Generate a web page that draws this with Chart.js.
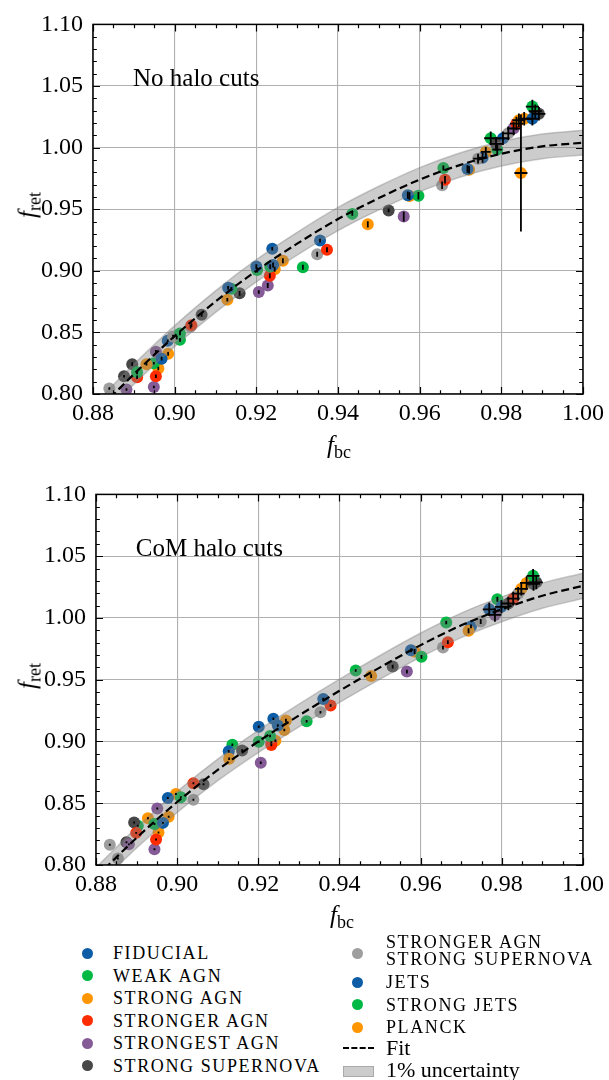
<!DOCTYPE html>
<html>
<head>
<meta charset="utf-8">
<script src="https://cdn.jsdelivr.net/npm/chart.js@4.4.1/dist/chart.umd.min.js"></script>
<style>
  html, body { margin: 0; padding: 0; background: #fff; }
  body { width: 609px; height: 1080px; position: relative; overflow: hidden; font-family: 'Liberation Serif', serif; color: #000; }
  .panel { position: absolute; left: 0; width: 609px; height: 470px; }
  .ax-title { position: absolute; font-size: 25px; white-space: nowrap; line-height: 1; transform: translate(-50%, -50%); }
  .ax-title.rot { transform: translate(-50%, -50%) rotate(-90deg); }
  .ax-title sub { font-size: 18px; font-style: normal; vertical-align: baseline; position: relative; top: 5px; }
  .lg-dot { position: absolute; width: 11px; height: 11px; border-radius: 50%; }
  .lg-text { position: absolute; font-size: 18px; letter-spacing: 1.6px; line-height: 16.6px; white-space: pre; transform: translateY(-50%); }
  .lg-text.plain { font-size: 22px; letter-spacing: 0; line-height: 22px; }
</style>
</head>
<body>
<canvas id="top" class="panel" style="top:0" width="609" height="470"></canvas>
<canvas id="bottom" class="panel" style="top:470px" width="609" height="470"></canvas>
<div class="ax-title" style="left:339px; top:444px"><i>f</i><sub>bc</sub></div>
<div class="ax-title rot" style="left:27px; top:205px"><i>f</i><sub>ret</sub></div>
<div class="ax-title" style="left:342px; top:914px"><i>f</i><sub>bc</sub></div>
<div class="ax-title rot" style="left:27px; top:676px"><i>f</i><sub>ret</sub></div>
<div id="legend"></div>
<script>
// simulation models, in legend order
const MODELS = ['FIDUCIAL', 'WEAK AGN', 'STRONG AGN', 'STRONGER AGN', 'STRONGEST AGN',
  'STRONG SUPERNOVA', 'STRONGER AGN\nSTRONG SUPERNOVA', 'JETS', 'STRONG JETS', 'PLANCK'];
const MODEL_COLORS = ['#0C5DA5', '#00B945', '#FF9500', '#FF2C00', '#845B97',
  '#474747', '#9e9e9e', '#0C5DA5', '#00B945', '#FF9500'];

// no halo cuts
const noCutFbc = [0.8840, 0.8882, 0.8876, 0.8896, 0.8908, 0.8908, 0.8931, 0.8949, 0.8960, 0.8954,
  0.8949, 0.8954, 0.8968, 0.8984, 0.8983, 0.8996, 0.9005, 0.9013, 0.9013, 0.9041,
  0.9039, 0.9066, 0.9131, 0.9139, 0.9129, 0.9159, 0.9200, 0.9202, 0.9206, 0.9228,
  0.9233, 0.9234, 0.9241, 0.9239, 0.9245, 0.9265, 0.9314, 0.9349, 0.9356, 0.9373,
  0.9435, 0.9473, 0.9524, 0.9561, 0.9571, 0.9575, 0.9597, 0.9658, 0.9662, 0.9655,
  0.9717, 0.9721, 0.9743, 0.9754, 0.9762, 0.9790, 0.9774, 0.9787, 0.9804, 0.9817,
  0.9830, 0.9837, 0.9843, 0.9856, 0.9876, 0.9883, 0.9876, 0.9892, 0.9848];
const noCutFret = [0.8044, 0.8036, 0.8144, 0.8242, 0.8176, 0.8136, 0.8242, 0.8250, 0.8207, 0.8144,
  0.8057, 0.8342, 0.8287, 0.8326, 0.8432, 0.8466, 0.8458, 0.8492, 0.8440, 0.8559,
  0.8546, 0.8643, 0.8862, 0.8854, 0.8765, 0.8817, 0.9034, 0.9007, 0.8828, 0.8880,
  0.8960, 0.9034, 0.9047, 0.9179, 0.9013, 0.9082, 0.9029, 0.9134, 0.9245, 0.9171,
  0.9462, 0.9377, 0.9490, 0.9440, 0.9614, 0.9607, 0.9609, 0.9834, 0.9739, 0.9694,
  0.9826, 0.9820, 0.9910, 0.9918, 0.9965, 0.9984, 1.0076, 1.0030, 1.0076, 1.0116,
  1.0155, 1.0195, 1.0222, 1.0234, 1.0333, 1.0295, 1.0234, 1.0274, 0.9794];
const noCutModel = [6, 4, 5, 5, 1, 3, 2, 8, 9, 3,
  4, 4, 0, 2, 7, 6, 9, 1, 8, 3,
  6, 5, 0, 1, 2, 5, 7, 8, 4, 4,
  3, 1, 0, 7, 9, 2, 8, 6, 0, 3,
  1, 2, 5, 4, 0, 2, 1, 1, 3, 6,
  0, 9, 6, 7, 9, 8, 8, 5, 7, 6,
  4, 3, 2, 9, 1, 5, 0, 5, 2];
const noCutXerr = [0, 0, 0, 0, 0, 0, 0, 0, 0, 0,
  0, 0, 0, 0, 0, 0, 0, 0, 0, 0,
  0, 0, 0, 0, 0, 0, 0, 0, 0, 0,
  0, 0, 0, 0, 0, 0, 0, 0, 0, 0,
  0, 0, 0, 0, 0, 0, 0, 0, 0, 0,
  0, 0, 0.0012, 0.0012, 0.0012, 0.0012, 0.0016, 0.0016, 0.0016, 0.0016,
  0.0016, 0.0016, 0.0016, 0.0016, 0.0016, 0.0016, 0.0016, 0.0016, 0.0016];
const noCutYerr = [0.001, 0.001, 0.001, 0.0015, 0.0015, 0.0015, 0.001, 0.001, 0.0015, 0.0015,
  0.001, 0.0015, 0.0015, 0.0015, 0.001, 0.0015, 0.0015, 0.0015, 0.0015, 0.0015,
  0.0015, 0.0015, 0.0015, 0.0015, 0.0015, 0.002, 0.002, 0.002, 0.0015, 0.002,
  0.002, 0.002, 0.002, 0.0015, 0.002, 0.002, 0.002, 0.002, 0.0015, 0.002,
  0.0015, 0.0025, 0.0015, 0.004, 0.003, 0.003, 0.003, 0.002, 0.003, 0.003,
  0.003, 0.003, 0.004, 0.004, 0.004, 0.004, 0.0055, 0.0055, 0.0055, 0.0055,
  0.0055, 0.0055, 0.0055, 0.0055, 0.0055, 0.0055, 0.0055, 0.0055, 0.0475];

// centre-of-mass halo cuts
const comFbc = [0.8834, 0.8854, 0.8875, 0.8881, 0.8894, 0.8903, 0.8899, 0.8928, 0.8944, 0.8954,
  0.8948, 0.8944, 0.8951, 0.8965, 0.8979, 0.8977, 0.8997, 0.9009, 0.9040, 0.9040,
  0.9065, 0.9127, 0.9136, 0.9128, 0.9160, 0.9201, 0.9201, 0.9206, 0.9232, 0.9232,
  0.9229, 0.9237, 0.9248, 0.9242, 0.9264, 0.9268, 0.9319, 0.9353, 0.9360, 0.9378,
  0.9440, 0.9478, 0.9531, 0.9566, 0.9576, 0.9585, 0.9602, 0.9663, 0.9667, 0.9655,
  0.9724, 0.9718, 0.9748, 0.9789, 0.9769, 0.9783, 0.9799, 0.9816, 0.9828, 0.9840,
  0.9848, 0.9861, 0.9877, 0.9878, 0.9885];
const comFret = [0.8164, 0.8053, 0.8185, 0.8167, 0.8344, 0.8317, 0.8260, 0.8379, 0.8331, 0.8264,
  0.8206, 0.8127, 0.8458, 0.8341, 0.8391, 0.8542, 0.8574, 0.8548, 0.8529, 0.8661,
  0.8653, 0.8921, 0.8974, 0.8860, 0.8926, 0.9119, 0.8998, 0.8828, 0.8971, 0.8992,
  0.9045, 0.9183, 0.9130, 0.9006, 0.9093, 0.9169, 0.9164, 0.9236, 0.9344, 0.9291,
  0.9574, 0.9529, 0.9606, 0.9566, 0.9738, 0.9728, 0.9685, 0.9963, 0.9804, 0.9760,
  0.9931, 0.9897, 0.9971, 1.0151, 1.0070, 1.0024, 1.0090, 1.0117, 1.0156, 1.0196,
  1.0236, 1.0283, 1.0341, 1.0275, 1.0288];
const comModel = [6, 6, 5, 4, 5, 8, 3, 2, 1, 9,
  3, 4, 4, 0, 2, 0, 9, 1, 6, 3,
  5, 7, 8, 2, 5, 0, 1, 4, 3, 4,
  1, 7, 0, 9, 2, 9, 8, 6, 0, 3,
  1, 2, 5, 4, 0, 9, 8, 1, 3, 6,
  7, 2, 6, 8, 0, 4, 7, 5, 3, 6,
  2, 9, 1, 5, 5];
const comXerr = [0, 0, 0, 0, 0, 0, 0, 0, 0, 0,
  0, 0, 0, 0, 0, 0, 0, 0, 0, 0,
  0, 0, 0, 0, 0, 0, 0, 0, 0, 0,
  0, 0, 0, 0, 0, 0, 0, 0, 0, 0,
  0, 0, 0, 0, 0, 0, 0, 0, 0, 0,
  0, 0, 0, 0, 0.0016, 0.0016, 0.0016, 0.0016, 0.0016, 0.0016,
  0.0016, 0.0016, 0.0016, 0.0016, 0.0016];
const comYerr = [0.0008, 0.0008, 0.0008, 0.0008, 0.0008, 0.0008, 0.0008, 0.0008, 0.0008, 0.0008,
  0.0008, 0.0008, 0.0008, 0.0008, 0.0008, 0.0008, 0.0008, 0.0008, 0.0008, 0.0008,
  0.0008, 0.001, 0.001, 0.001, 0.001, 0.001, 0.001, 0.001, 0.001, 0.001,
  0.001, 0.001, 0.001, 0.001, 0.001, 0.0015, 0.001, 0.001, 0.001, 0.001,
  0.001, 0.0015, 0.0015, 0.0015, 0.0015, 0.002, 0.0015, 0.0015, 0.0015, 0.0015,
  0.0015, 0.002, 0.002, 0.002, 0.0055, 0.0055, 0.0055, 0.0055, 0.0055, 0.0055,
  0.0055, 0.0055, 0.0055, 0.0055, 0.0055];

// fitted relation
const fitFbc = [0.88, 0.89, 0.90, 0.91, 0.92, 0.93, 0.94, 0.95, 0.96, 0.97, 0.98, 0.99, 1.00];
const noCutFit = [0.783, 0.816, 0.847, 0.875, 0.900, 0.922, 0.942, 0.959, 0.974, 0.986, 0.995, 1.001, 1.004];
const comFit = [0.790, 0.822, 0.851, 0.877, 0.900, 0.921, 0.941, 0.960, 0.978, 0.994, 1.007, 1.018, 1.026];
const BAND = 0.01; // 1% uncertainty

const X_TICKS = { min: 0.88, max: 1.00, step: 0.02, minor: 0.005 };
const Y_TICKS = { min: 0.80, max: 1.10, step: 0.05, minor: 0.01 };

const FONT = "'Liberation Serif', serif";
Chart.defaults.font.family = FONT;
Chart.defaults.color = '#000';

// error bars, frame, inward ticks (major + minor) on all four sides, panel label
const axesDecor = {
    id: 'axesDecor',
    afterDatasetsDraw(chart) {
        const {ctx, chartArea: a, scales: {x, y}} = chart;
        ctx.save();
        ctx.beginPath();
        ctx.rect(a.left, a.top, a.width, a.height);
        ctx.clip();
        ctx.strokeStyle = '#000';
        ctx.lineWidth = 1.8;
        chart.data.datasets.forEach(ds => {
            if (!ds.errorBars) return;
            ds.data.forEach(p => {
                const px = x.getPixelForValue(p.x), py = y.getPixelForValue(p.y);
                ctx.beginPath();
                if (p.ye) {
                    ctx.moveTo(px, y.getPixelForValue(p.y - p.ye));
                    ctx.lineTo(px, y.getPixelForValue(p.y + p.ye));
                }
                if (p.xe) {
                    ctx.moveTo(x.getPixelForValue(p.x - p.xe), py);
                    ctx.lineTo(x.getPixelForValue(p.x + p.xe), py);
                }
                ctx.stroke();
            });
        });
        ctx.restore();
    },
    afterDraw(chart, args, opts) {
        const {ctx, chartArea: a, scales: {x, y}} = chart;
        ctx.save();
        ctx.strokeStyle = '#000';
        ctx.lineWidth = 1.2;
        const tick = (scale, t, len) => {
            const n = Math.round((t.max - t.min) / t.minor);
            for (let k = 0; k <= n; k++) {
                const v = t.min + k * t.minor;
                const major = Math.abs(v / t.step - Math.round(v / t.step)) < 1e-6;
                const l = major ? len : len * 0.55;
                const p = Math.round(scale.getPixelForValue(v)) + 0.5;
                ctx.beginPath();
                if (scale.axis === 'x') {
                    ctx.moveTo(p, a.bottom); ctx.lineTo(p, a.bottom - l);
                    ctx.moveTo(p, a.top); ctx.lineTo(p, a.top + l);
                } else {
                    ctx.moveTo(a.left, p); ctx.lineTo(a.left + l, p);
                    ctx.moveTo(a.right, p); ctx.lineTo(a.right - l, p);
                }
                ctx.stroke();
            }
        };
        tick(x, X_TICKS, 7);
        tick(y, Y_TICKS, 7);
        ctx.lineWidth = 1.5;
        ctx.strokeRect(a.left, a.top, a.width, a.height);
        if (opts.label) {
            ctx.fillStyle = '#000';
            ctx.font = '25px ' + FONT;
            ctx.textAlign = 'left';
            ctx.textBaseline = 'alphabetic';
            ctx.fillText(opts.label, x.getPixelForValue(opts.at[0]), y.getPixelForValue(opts.at[1]));
        }
        ctx.restore();
    }
};

function buildDatasets(fbc, fret, model, xerr, yerr, fit) {
    const band = 'rgba(128,128,128,0.4)';
    const sets = [
        {
            type: 'line', label: 'Fit', order: 1,
            data: fitFbc.map((v, i) => ({x: v, y: fit[i]})),
            borderColor: '#000', borderWidth: 2.2, borderDash: [8, 4],
            pointRadius: 0, fill: false, cubicInterpolationMode: 'monotone'
        },
        {
            type: 'line', label: '1% uncertainty', order: 2,
            data: fitFbc.map((v, i) => ({x: v, y: fit[i] * (1 + BAND)})),
            borderColor: band, borderWidth: 1.5, backgroundColor: band,
            pointRadius: 0, fill: '+1', cubicInterpolationMode: 'monotone'
        },
        {
            type: 'line', label: '', order: 2,
            data: fitFbc.map((v, i) => ({x: v, y: fit[i] * (1 - BAND)})),
            borderColor: band, borderWidth: 1.5,
            pointRadius: 0, fill: false, cubicInterpolationMode: 'monotone'
        }
    ];
    MODELS.forEach((name, m) => {
        const data = [];
        fbc.forEach((v, i) => {
            if (model[i] === m) data.push({x: v, y: fret[i], xe: xerr[i], ye: yerr[i]});
        });
        sets.push({
            type: 'scatter', label: name, order: 3, errorBars: true,
            data: data,
            backgroundColor: MODEL_COLORS[m], pointBackgroundColor: MODEL_COLORS[m],
            pointBorderWidth: 0, pointRadius: 6, pointHoverRadius: 6
        });
    });
    return sets;
}

function makePanel(canvasId, datasets, label, pad, yWidth, xHeight) {
    const axisFont = {family: FONT, size: 24};
    return new Chart(document.getElementById(canvasId), {
        type: 'scatter',
        data: {datasets: datasets},
        options: {
            responsive: false,
            animation: false,
            devicePixelRatio: 1,
            layout: {padding: pad},
            plugins: {
                legend: {display: false},
                tooltip: {enabled: false},
                axesDecor: {label: label, at: [0.8898, 1.05]}
            },
            scales: {
                x: {
                    type: 'linear', min: X_TICKS.min, max: X_TICKS.max,
                    afterFit: s => { s.height = xHeight; },
                    ticks: {stepSize: X_TICKS.step, callback: v => v.toFixed(2), font: axisFont,
                        color: '#000', padding: 5, maxRotation: 0, autoSkip: false},
                    grid: {color: '#b0b0b0', lineWidth: 1.1, drawTicks: false},
                    border: {display: false}
                },
                y: {
                    type: 'linear', min: Y_TICKS.min, max: Y_TICKS.max,
                    afterFit: s => { s.width = yWidth; },
                    ticks: {stepSize: Y_TICKS.step, callback: v => v.toFixed(2), font: axisFont,
                        color: '#000', padding: 10, autoSkip: false},
                    grid: {color: '#b0b0b0', lineWidth: 1.1, drawTicks: false},
                    border: {display: false}
                }
            }
        },
        plugins: [axesDecor]
    });
}

makePanel('top', buildDatasets(noCutFbc, noCutFret, noCutModel, noCutXerr, noCutYerr, noCutFit),
    'No halo cuts', {top: 15, right: 25, left: 0, bottom: 0}, 93, 76);
makePanel('bottom', buildDatasets(comFbc, comFret, comModel, comXerr, comYerr, comFit),
    'CoM halo cuts', {top: 17, right: 22, left: 0, bottom: 0}, 96, 75);

// legend, two columns
const legend = document.getElementById('legend');
function addText(txt, left, cy, plain) {
    const t = document.createElement('div');
    t.className = 'lg-text' + (plain ? ' plain' : '');
    t.textContent = txt;
    t.style.left = left + 'px';
    t.style.top = cy + 'px';
    legend.appendChild(t);
}
MODELS.forEach((name, i) => {
    const right = i >= 6;
    const k = right ? i - 6 : i;
    const cy = right ? (k === 0 ? 951 : 982 + (k - 1) * 22.5) : 953 + k * 22.5;
    const dot = document.createElement('div');
    dot.className = 'lg-dot';
    dot.style.background = MODEL_COLORS[i];
    dot.style.left = (right ? 351.5 : 81.5) + 'px';
    dot.style.top = ((k === 0 && right ? 953 : cy) - 5.5) + 'px';
    legend.appendChild(dot);
    addText(name, right ? 386 : 113, cy, false);
});
const fitKey = document.createElement('div');
fitKey.style.cssText = 'position:absolute;left:343px;top:1047px;width:31px;height:0;border-top:2.4px dashed #000;';
legend.appendChild(fitKey);
addText('Fit', 386, 1048, true);
const bandKey = document.createElement('div');
bandKey.style.cssText = 'position:absolute;left:343px;top:1066px;width:29px;height:9px;background:rgba(128,128,128,0.4);border:1.5px solid rgba(128,128,128,0.45);';
legend.appendChild(bandKey);
addText('1% uncertainty', 386, 1069.5, true);
</script>
</body>
</html>
